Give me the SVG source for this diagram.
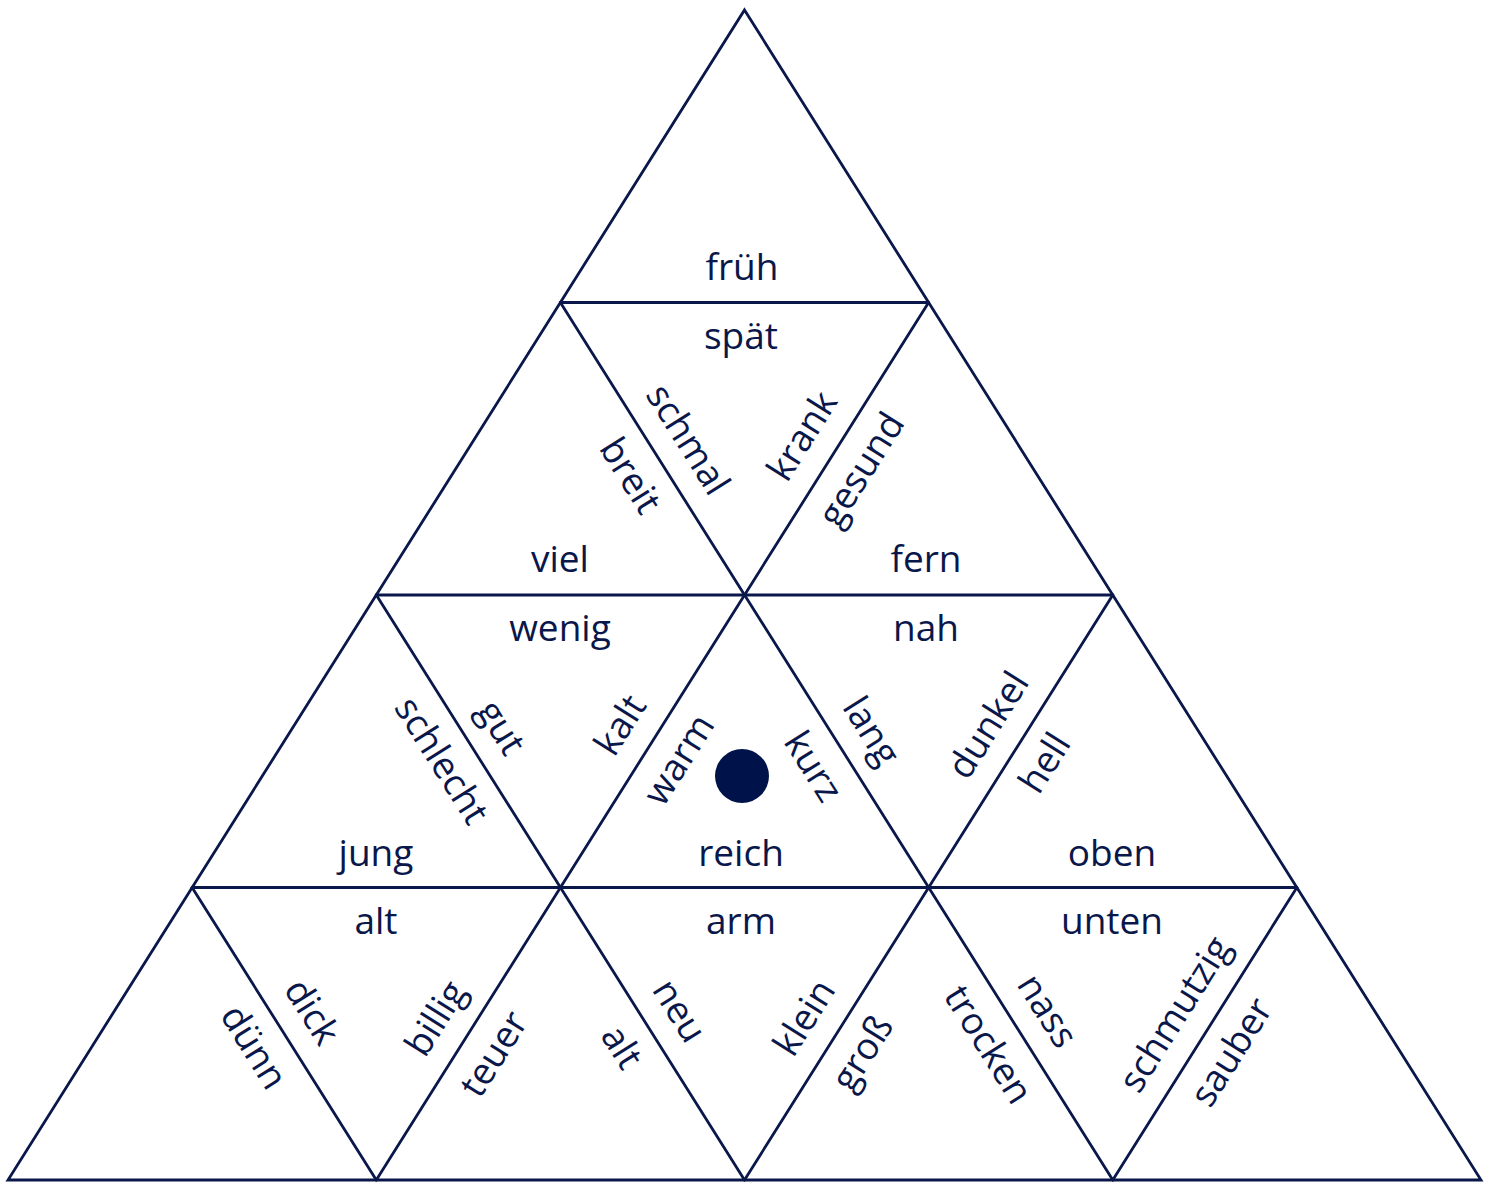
<svg xmlns="http://www.w3.org/2000/svg" width="1493" height="1182" viewBox="0 0 1493 1182">
<style>
.ln{stroke:#0a174a;stroke-width:2.8;fill:none;stroke-linecap:round}
text{font-family:"Open Sans","Noto Sans","DejaVu Sans",sans-serif;font-size:37px;fill:#0a174a;text-anchor:middle}
</style>
<rect width="1493" height="1182" fill="#ffffff"/>
<g id="connectors" class="ln">
<polygon points="744.5,10 1481,1180 8,1180"/>
<line x1="560.4" y1="302.5" x2="928.6" y2="302.5"/>
<line x1="376.3" y1="595" x2="1112.8" y2="595"/>
<line x1="192.1" y1="887.5" x2="1296.9" y2="887.5"/>
<line x1="560.4" y1="302.5" x2="1112.8" y2="1180"/>
<line x1="376.3" y1="595" x2="744.5" y2="1180"/>
<line x1="192.1" y1="887.5" x2="376.3" y2="1180"/>
<line x1="928.6" y1="302.5" x2="376.3" y2="1180"/>
<line x1="1112.8" y1="595" x2="744.5" y2="1180"/>
<line x1="1296.9" y1="887.5" x2="1112.8" y2="1180"/>
</g>
<g id="t1"><text x="742" y="280">früh</text></g>
<g id="t2">
<text x="560" y="572">viel</text>
<text transform="translate(619.8,482.3) rotate(57.83)">breit</text>
</g>
<g id="t3">
<text x="741" y="349">spät</text>
<text transform="translate(677.3,446.1) rotate(57.83)">schmal</text>
<text transform="translate(812.8,442.7) rotate(-57.83)">krank</text>
</g>
<g id="t4">
<text x="926" y="572">fern</text>
<text transform="translate(872,476.3) rotate(-57.83)">gesund</text>
</g>
<g id="t5">
<text x="376" y="866">jung</text>
<text transform="translate(431,767.2) rotate(57.83)">schlecht</text>
</g>
<g id="t6">
<text x="560" y="641">wenig</text>
<text transform="translate(490.7,734.3) rotate(57.83)">gut</text>
<text transform="translate(630.9,731.8) rotate(-57.83)">kalt</text>
</g>
<g id="t7">
<text transform="translate(689.6,766.3) rotate(-57.83)">warm</text>
<text transform="translate(802.7,773.1) rotate(57.83)">kurz</text>
<text x="741" y="866">reich</text>
<circle cx="742" cy="776" r="27" fill="#00124a"/>
</g>
<g id="t8">
<text x="926" y="641">nah</text>
<text transform="translate(860.8,737.7) rotate(57.83)">lang</text>
<text transform="translate(998.9,731.8) rotate(-57.83)">dunkel</text>
</g>
<g id="t9">
<text transform="translate(1055.4,769.7) rotate(-57.83)">hell</text>
<text x="1112" y="866">oben</text>
</g>
<g id="t10">
<text transform="translate(243.3,1053.7) rotate(57.83)">dünn</text>
</g>
<g id="t11">
<text x="376" y="934">alt</text>
<text transform="translate(301.3,1018.4) rotate(57.83)">dick</text>
<text transform="translate(446.4,1025.1) rotate(-57.83)">billig</text>
</g>
<g id="t12">
<text transform="translate(504.5,1060.5) rotate(-57.83)">teuer</text>
<text transform="translate(611.3,1053.7) rotate(57.83)">alt</text>
</g>
<g id="t13">
<text x="741" y="934">arm</text>
<text transform="translate(668.8,1017.5) rotate(57.83)">neu</text>
<text transform="translate(814.9,1024.3) rotate(-57.83)">klein</text>
</g>
<g id="t14">
<text transform="translate(873,1059.7) rotate(-57.83)">groß</text>
<text transform="translate(977.7,1051.2) rotate(57.83)">trocken</text>
</g>
<g id="t15">
<text x="1112" y="934">unten</text>
<text transform="translate(1036.8,1017.5) rotate(57.83)">nass</text>
<text transform="translate(1185.6,1020.9) rotate(-57.83)">schmutzig</text>
</g>
<g id="t16">
<text transform="translate(1242.1,1058.8) rotate(-57.83)">sauber</text>
</g>
</svg>
